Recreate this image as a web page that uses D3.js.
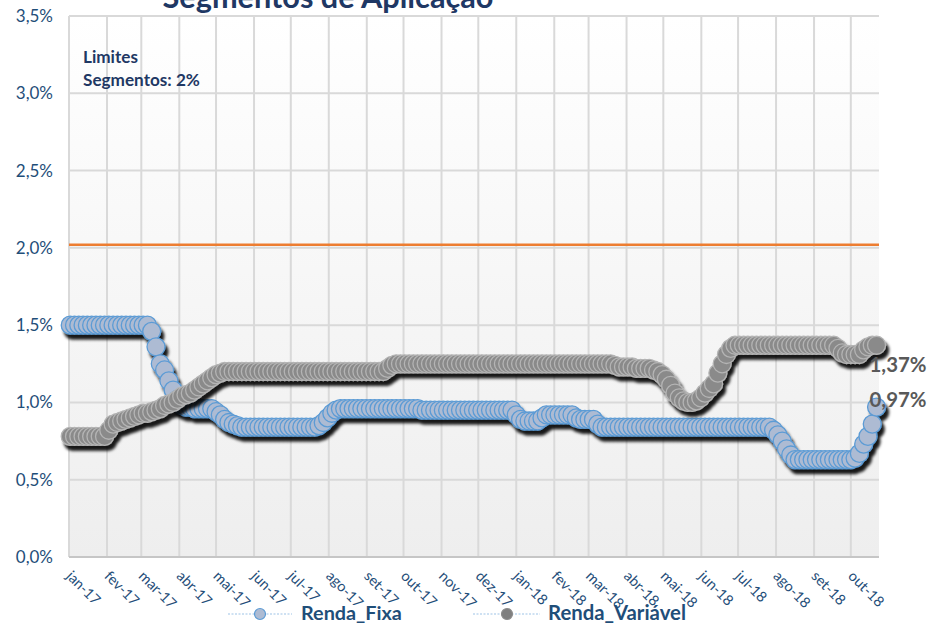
<!DOCTYPE html>
<html><head><meta charset="utf-8">
<script src="https://cdn.jsdelivr.net/npm/d3@7"></script>
<style>
body{margin:0;background:#fff;}
svg{display:block;}
text{font-family:Lato,"Open Sans",sans-serif;}
</style>
</head><body>
<svg id="chart" width="930" height="624"></svg>
<script>
// ---------------- DATA ----------------
const chartTitle = "Segmentos de Aplicação";
const noteLines = ["Limites", "Segmentos: 2%"];
const seriesNames = ["Renda_Fixa", "Renda_Variável"];
const axisStart = "2017-01-01";
const axisEnd = "2018-10-24";
const firstDate = "2017-01-02";   // first observation
const stepDays = 3.5;             // spacing between observations (days)
const monthLabels = ["jan-17","fev-17","mar-17","abr-17","mai-17","jun-17","jul-17","ago-17","set-17","out-17","nov-17","dez-17",
                     "jan-18","fev-18","mar-18","abr-18","mai-18","jun-18","jul-18","ago-18","set-18","out-18"];
const monthStarts = ["2017-01-01","2017-02-01","2017-03-01","2017-04-01","2017-05-01","2017-06-01","2017-07-01","2017-08-01",
                     "2017-09-01","2017-10-01","2017-11-01","2017-12-01","2018-01-01","2018-02-01","2018-03-01","2018-04-01",
                     "2018-05-01","2018-06-01","2018-07-01","2018-08-01","2018-09-01","2018-10-01"];
const yTicks = [0, 0.5, 1.0, 1.5, 2.0, 2.5, 3.0, 3.5];
const yTickLabels = ["0,0%","0,5%","1,0%","1,5%","2,0%","2,5%","3,0%","3,5%"];
const limitValue = 2.02;
const lastLabels = ["0,97%", "1,37%"];

// Renda_Fixa (% ), one value per observation
const rendaFixa = [
 1.50,1.50,1.50,1.50,1.50,1.50,1.50,1.50,1.50,1.50,1.50,1.50,1.50,1.50,1.50,1.50,1.50,1.50,1.50,
 1.46,1.36,1.25,1.21,1.14,1.08,1.02,0.98,
 0.97,0.97,0.96,0.96,0.96,0.96,0.96,
 0.94,0.92,0.89,0.87,0.86,0.85,
 0.84,0.84,0.84,0.84,0.84,0.84,0.84,0.84,0.84,0.84,0.84,0.84,0.84,0.84,0.84,0.84,0.84,0.84,
 0.85,0.87,0.90,0.93,0.95,
 0.96,0.96,0.96,0.96,0.96,0.96,0.96,0.96,0.96,0.96,0.96,0.96,0.96,0.96,0.96,0.96,0.96,0.96,0.96,
 0.95,0.95,0.95,0.95,0.95,0.95,0.95,0.95,0.95,0.95,0.95,0.95,0.95,0.95,0.95,0.95,0.95,0.95,0.95,0.95,0.95,0.95,
 0.92,0.89,
 0.88,0.88,0.88,0.88,
 0.90,
 0.92,0.92,0.92,0.92,0.92,0.92,0.92,
 0.90,
 0.89,0.89,0.89,0.89,
 0.86,
 0.84,0.84,0.84,0.84,0.84,0.84,0.84,0.84,0.84,0.84,0.84,0.84,0.84,0.84,0.84,0.84,0.84,0.84,0.84,0.84,
 0.84,0.84,0.84,0.84,0.84,0.84,0.84,0.84,0.84,0.84,0.84,0.84,0.84,0.84,0.84,0.84,0.84,0.84,0.84,0.84,
 0.82,0.79,0.75,0.70,0.66,
 0.63,0.63,0.63,0.63,0.63,0.63,0.63,0.63,0.63,0.63,0.63,0.63,0.63,0.63,
 0.64,0.67,0.73,0.78,0.86,0.97
];

// Renda_Variável (%)
const rendaVariavel = [
 0.78,0.78,0.78,0.78,0.78,0.78,0.78,0.78,0.78,
 0.82,0.86,0.87,0.88,0.89,0.90,0.91,0.92,0.93,0.93,0.94,0.95,0.96,0.98,0.99,1.00,1.02,1.04,1.05,1.06,1.08,1.10,1.12,1.14,1.16,1.18,1.19,
 1.20,1.20,1.20,1.20,1.20,1.20,1.20,1.20,1.20,1.20,1.20,1.20,1.20,1.20,1.20,1.20,1.20,1.20,1.20,
 1.20,1.20,1.20,1.20,1.20,1.20,1.20,1.20,1.20,1.20,1.20,1.20,1.20,1.20,1.20,1.20,1.20,1.20,1.20,
 1.22,1.24,
 1.25,1.25,1.25,1.25,1.25,1.25,1.25,1.25,1.25,1.25,1.25,1.25,1.25,1.25,1.25,1.25,1.25,
 1.25,1.25,1.25,1.25,1.25,1.25,1.25,1.25,1.25,1.25,1.25,1.25,1.25,1.25,1.25,1.25,1.25,
 1.25,1.25,1.25,1.25,1.25,1.25,1.25,1.25,1.25,1.25,1.25,1.25,1.25,1.25,1.25,1.25,1.25,
 1.24,1.23,1.23,1.23,1.23,
 1.22,1.22,1.22,1.22,
 1.21,1.20,1.18,1.15,
 1.11,1.06,1.03,1.01,1.00,1.00,1.01,1.03,1.06,1.09,1.12,1.19,1.25,1.31,1.35,1.37,
 1.37,1.37,1.37,1.37,1.37,1.37,1.37,1.37,1.37,1.37,1.37,1.37,1.37,1.37,1.37,1.37,1.37,1.37,1.37,1.37,1.37,1.37,1.37,
 1.35,1.32,1.31,1.31,1.31,1.31,1.34,1.36,1.37,1.37
];

// ---------------- LAYOUT ----------------
const M = {left:69, right:879, top:16, bottom:557};
const svg = d3.select("#chart");
const parse = d3.utcParse("%Y-%m-%d");
const x = d3.scaleUtc().domain([parse(axisStart), parse(axisEnd)]).range([M.left, M.right]);
const y = d3.scaleLinear().domain([0, 3.5]).range([M.bottom, M.top]);
const t0 = parse(firstDate);
const dateAt = i => new Date(t0.getTime() + i * stepDays * 86400000);

function fit(sel, target){
  const w = sel.node().getComputedTextLength();
  const fs = parseFloat(sel.attr("font-size"));
  sel.attr("font-size", (fs * target / w).toFixed(2));
}

const defs = svg.append("defs");
const grad = defs.append("linearGradient").attr("id","bg").attr("x1",0).attr("y1",0).attr("x2",0).attr("y2",1);
grad.append("stop").attr("offset","0%").attr("stop-color","#ffffff");
grad.append("stop").attr("offset","100%").attr("stop-color","#eeeeee");
const f = defs.append("filter").attr("id","shadow").attr("x","-5%").attr("y","-20%").attr("width","110%").attr("height","140%");
f.append("feDropShadow").attr("dx",3).attr("dy",5).attr("stdDeviation",1.6)
  .attr("flood-color","#000").attr("flood-opacity",0.9);

// plot background
svg.append("rect").attr("x",M.left).attr("y",M.top).attr("width",M.right-M.left).attr("height",M.bottom-M.top)
  .attr("fill","url(#bg)");

// gridlines
svg.append("g").selectAll("line").data(monthStarts).join("line")
  .attr("x1",d=>x(parse(d))).attr("x2",d=>x(parse(d)))
  .attr("y1",M.top).attr("y2",M.bottom)
  .attr("stroke","#d9d9d9").attr("stroke-width",2);
svg.append("g").selectAll("line").data(yTicks).join("line")
  .attr("x1",M.left).attr("x2",M.right)
  .attr("y1",d=>y(d)).attr("y2",d=>y(d))
  .attr("stroke",d=>d===0?"#c6c6c6":"#d9d9d9").attr("stroke-width",2);

// y axis labels
const yAxis = d3.axisLeft(y).tickValues(yTicks).tickFormat((d,i)=>yTickLabels[i]).tickSize(0).tickPadding(16);
const gy = svg.append("g").attr("transform",`translate(${M.left},0)`).call(yAxis);
gy.select(".domain").remove();
gy.selectAll("text").attr("font-size",17).attr("fill","#1f4e79").attr("font-family","Lato");

// x axis labels
const xAxis = d3.axisBottom(x).tickValues(monthStarts.map(parse)).tickFormat((d,i)=>monthLabels[i]).tickSize(0);
const gx = svg.append("g").attr("transform",`translate(0,${M.bottom})`).call(xAxis);
gx.select(".domain").remove();
gx.selectAll("text")
  .attr("font-size",14.5).attr("fill","#1f4e79").attr("font-family","Lato")
  .attr("text-anchor","start").attr("dy",null).attr("y",null)
  .attr("transform","translate(-4,20) rotate(45)");

// limit line
svg.append("line").attr("x1",M.left).attr("x2",M.right).attr("y1",y(limitValue)).attr("y2",y(limitValue))
  .attr("stroke","#ed7d31").attr("stroke-width",2.5);

// note
const note = svg.append("g").attr("font-weight","bold").attr("fill","#1f3864");
note.append("text").attr("x",83).attr("y",63).attr("font-size",16).text(noteLines[0]);
const n2 = note.append("text").attr("x",83).attr("y",86).attr("font-size",16).text(noteLines[1]);
fit(n2, 117);
note.select("text").attr("font-size", n2.attr("font-size"));

// series
const styles = [
  {fill:"#adbbd3", stroke:"#5b9bd5"},
  {fill:"#8a8a8a", stroke:"#b4b4b4"}
];
const allSeries = [rendaFixa, rendaVariavel];
const line = d3.line().x((d,i)=>x(dateAt(i))).y(d=>y(d));
allSeries.forEach((vals, s) => {
  const g = svg.append("g").attr("filter","url(#shadow)");
  g.append("path").datum(vals).attr("d",line).attr("fill","none")
    .attr("stroke","#9dc3e6").attr("stroke-width",0.75).attr("stroke-dasharray","2,2");
  g.selectAll("circle").data(vals).join("circle")
    .attr("cx",(d,i)=>x(dateAt(i))).attr("cy",d=>y(d)).attr("r",9)
    .attr("fill",styles[s].fill).attr("stroke",styles[s].stroke).attr("stroke-width",1.3);
});

// end labels
const lastI = rendaFixa.length - 1;
const lab1 = svg.append("text").attr("x", x(dateAt(lastI)) - 7).attr("y", y(rendaFixa[lastI]) + 0)
  .attr("font-size",19).attr("font-weight","bold").attr("fill","#595959").text(lastLabels[0]);
fit(lab1, 57);
const lab2 = svg.append("text").attr("x", x(dateAt(lastI)) - 7).attr("y", y(rendaVariavel[lastI]) + 27)
  .attr("font-size",19).attr("font-weight","bold").attr("fill","#595959").text(lastLabels[1]);
fit(lab2, 57);

// title (clipped at top)
const tt = svg.append("text").attr("x",328).attr("y",8).attr("text-anchor","middle")
  .attr("font-size",26).attr("font-weight","bold").attr("fill","#1f3864").text(chartTitle);
fit(tt, 331);

// legend
const legend = [
  {lx1:228, lx2:292, cx:260, tx:301, style:styles[0], r:5.5, name:seriesNames[0], w:101},
  {lx1:473, lx2:540, cx:507, tx:548, style:{fill:"#7f7f7f", stroke:"#8c8c8c"}, r:5.5, name:seriesNames[1], w:138}
];
legend.forEach(L => {
  svg.append("line").attr("x1",L.lx1).attr("x2",L.lx2).attr("y1",614).attr("y2",614)
    .attr("stroke","#9dc3e6").attr("stroke-width",1).attr("stroke-dasharray","2,1.5");
  svg.append("circle").attr("cx",L.cx).attr("cy",614).attr("r",L.r)
    .attr("fill",L.style.fill).attr("stroke",L.style.stroke).attr("stroke-width",1.2);
  const t = svg.append("text").attr("x",L.tx).attr("y",620).attr("font-size",19)
    .attr("font-weight","bold").attr("fill","#1f4e79").text(L.name);
  fit(t, L.w);
});
</script>
</body></html>
